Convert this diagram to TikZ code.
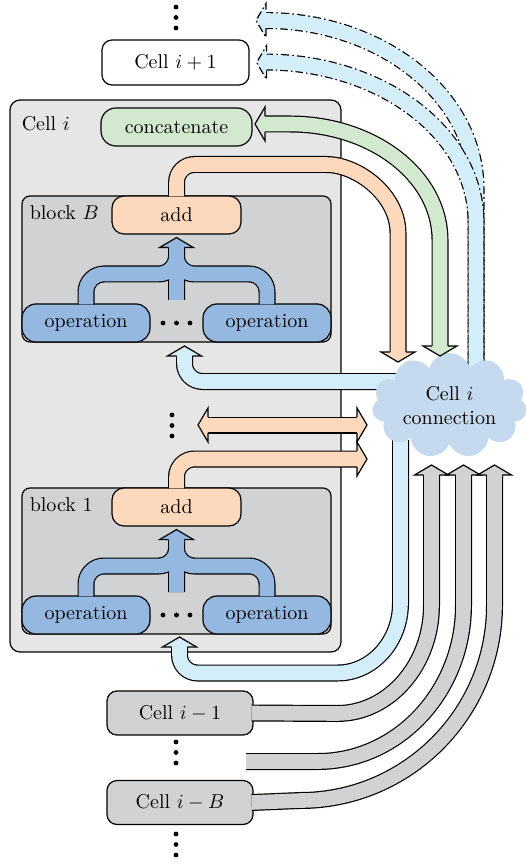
\documentclass[tikz,border=0pt]{standalone}
\usepackage{xcolor}
\usetikzlibrary{positioning,shapes.symbols,calc}

\definecolor{cellgray}{HTML}{E6E6E6}
\definecolor{blockgray}{HTML}{D1D2D4}
\definecolor{peach}{HTML}{FCD9BD}
\definecolor{mint}{HTML}{D2E8CF}
\definecolor{opblue}{HTML}{95B8E0}
\definecolor{skyblue}{HTML}{D3EDF9}
\definecolor{cloudblue}{HTML}{C6DAEF}

\begin{document}
\begin{tikzpicture}[
  x=0.5pt, y=-0.5pt,
  box/.style={draw, line width=0.6pt, inner sep=0pt, minimum height=19pt},
  cellbox/.style={box, rounded corners=5pt, minimum width=73.5pt, minimum height=22.5pt},
  opbox/.style={box, fill=opblue, rounded corners=7pt, minimum width=64pt},
  addbox/.style={box, fill=peach, rounded corners=6pt, minimum width=64.5pt},
  band/.style={line width=0.6pt, double distance=7.3pt},
  dashed line/.style={dash pattern=on 4pt off 1.5pt on 0.8pt off 1.5pt},
  dashband/.style={line width=7.3pt, draw=skyblue, preaction={draw=black, line width=8.5pt, dashed line}},
  head/.pic={
    \fill[#1] (-10,-7.9) -- (-10,-17) -- (0,0) -- (-10,17) -- (-10,7.9) -- cycle;
    \draw[line width=0.6pt] (-10,-7.9) -- (-10,-17) -- (0,0) -- (-10,17) -- (-10,7.9);
  }
]
\useasboundingbox (0,0) rectangle (525,865);

% cell i and the cell above
\node[box, fill=cellgray, rounded corners=5pt, minimum width=165.5pt, minimum height=276pt] (celli) at (175.5,376) {};
\node[anchor=west, inner xsep=0pt] (cellilab) at ([xshift=6pt, yshift=-12pt]celli.north west) {Cell $i$};
\node[box, fill=mint, rounded corners=7.5pt, minimum width=75.5pt] (concat) at (176.5,127) {concatenate};
\node[cellbox, fill=white] (cellnext) at (175.5,62.5) {Cell $i+1$};
\foreach \yy in {7,17.5,28} \fill (176,\yy) circle[radius=2.4];

% blocks
\foreach \b/\blab/\yy in {B/{block $B$}/0, 1/{block 1}/292} {
  \node[box, fill=blockgray, rounded corners=4pt, minimum width=154.5pt, minimum height=73pt] (block\b) at (176.5,269+\yy) {};
  \node[anchor=west, inner xsep=0pt] (blab\b) at ([xshift=4pt, yshift=-8.5pt]block\b.north west) {\blab};
  \node[addbox, anchor=north] (add\b) at (block\b.north) {add};
  \node[opbox, anchor=south west] (opl\b) at (block\b.south west) {operation};
  \node[opbox, anchor=south east] (opr\b) at (block\b.south east) {operation};
  \foreach \dx in {-13.5,0,13.5} \fill (176.5+\dx,323+\yy) circle[radius=2.4];
  \draw[band, double=opblue, rounded corners=9pt]
    ([yshift=-0.5pt]opl\b.north) |- (176.5,274+\yy) -- (176.5,247+\yy)
    ([yshift=-0.5pt]opr\b.north) |- (176.5,274+\yy) -- (176.5,247+\yy)
    (176.5,300+\yy) -- (176.5,247+\yy);
  \pic[rotate=90] at ([yshift=-1.5pt]add\b.south) {head=opblue};
}
\foreach \yy in {415,425.5,436} \fill (172,\yy) circle[radius=2.4];

% connections to the cells above
\draw[dashband] (265,20.5) arc[start angle=-90, end angle=0, x radius=211, y radius=168] -- (476,385);
\pic[rotate=180, dashed line] at (256,20.5) {head=skyblue};
\draw[dashband] (265,62) arc[start angle=-90, end angle=0, x radius=211, y radius=160] -- (476,385);
\pic[rotate=180, dashed line] at ([xshift=3.5pt]cellnext.east) {head=skyblue};

% inputs of the blocks
\draw[band, double=skyblue, rounded corners=9pt] (410,381.5) -| (184.5,356);
\pic[rotate=90] at (184.5,346) {head=skyblue};
\draw[band, double=skyblue] (400.5,440) -- (400.5,603) arc[start angle=0, end angle=90, x radius=63, y radius=70] [rounded corners=9pt] -- (179.5,673) -- (179.5,646);
\pic[rotate=90] at (179.5,637) {head=skyblue};

% outputs of the blocks
\draw[band, double=peach] (207.5,425) -- (357.5,425);
\pic[rotate=180] at (198,425) {head=peach};
\pic at (367,425) {head=peach};
\draw[band, double=peach, rounded corners=9pt] ([yshift=-0.5pt]add1.north) |- (357.5,459);
\pic at (367,459) {head=peach};
\draw[band, double=peach, rounded corners=9pt] ([yshift=-0.5pt]addB.north) |- (308,164.5) [sharp corners] arc[start angle=-90, end angle=0, x radius=90, y radius=68.5] -- (398,352);
\draw[band, double=mint] (265,124) -- (290,124) arc[start angle=-90, end angle=0, x radius=150, y radius=116] -- (440,346);
\pic[rotate=180] at (255,124) {head=mint};

% earlier cells
\node[cellbox, fill=blockgray, minimum width=73pt, minimum height=22pt] (cellprev) at (180,713) {Cell $i-1$};
\foreach \yy in {742,752.5,763} \fill (176,\yy) circle[radius=2.4];
\node[cellbox, fill=blockgray, minimum width=73pt, minimum height=22pt] (cellfirst) at (180,802.5) {Cell $i-B$};
\foreach \yy in {834,844.5,855} \fill (176,\yy) circle[radius=2.4];
\draw[band, double=blockgray]
  ([xshift=-1pt]cellprev.east) -- (337,713.5) arc[start angle=90, end angle=0, x radius=94.5, y radius=108.5] -- (431.5,475)
  (246,761.5) -- (317.5,761.5) arc[start angle=90, end angle=0, x radius=146, y radius=156.5] -- (463.5,475)
  ([xshift=-1pt]cellfirst.east) -- (300,800.5) arc[start angle=90, end angle=0, x radius=194.5, y radius=195.5] -- (494.5,475);

% cell i connection
\node[cloud, cloud puffs=11, cloud ignores aspect, fill=cloudblue, minimum width=77.5pt, minimum height=52.5pt, inner sep=0pt, align=center] (conn) at (449.5,405.5) {Cell $i$\\connection};
\pic[rotate=-90] at (398,362) {head=peach};
\pic[rotate=-90] at (440,356) {head=mint};
\foreach \xx in {431.5,463.5,494.5} \pic[rotate=90] at (\xx,465) {head=blockgray};
\end{tikzpicture}
\end{document}
